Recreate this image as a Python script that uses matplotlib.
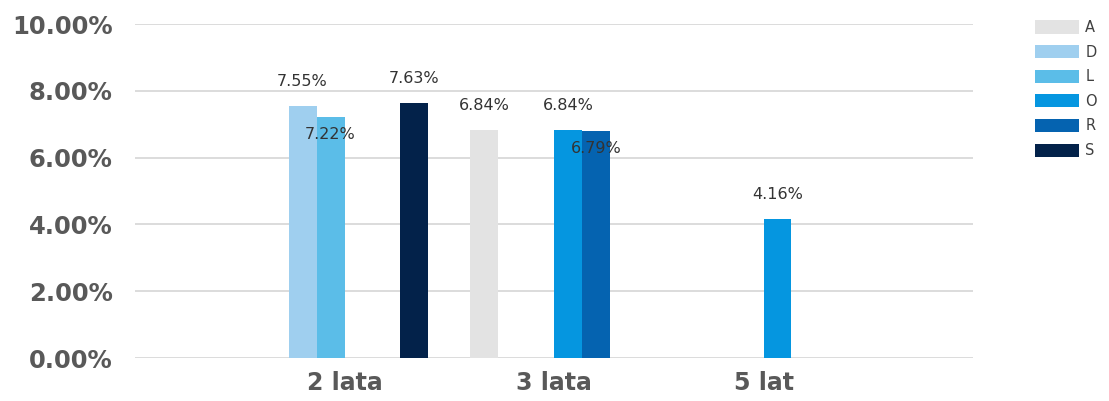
import numpy as np
import matplotlib
matplotlib.use('Agg')
import matplotlib.pyplot as plt
from matplotlib.patches import Patch

categories = ['2 lata', '3 lata', '5 lat']
series = ['A', 'D', 'L', 'O', 'R', 'S']
colors = ['#e3e3e3', '#9fcfef', '#5bbde8', '#0596e0', '#0563b0', '#03224a']
# nan = no bar in that group
values = {
    'A': [np.nan, 6.84, np.nan],
    'D': [7.55, np.nan, np.nan],
    'L': [7.22, np.nan, np.nan],
    'O': [np.nan, 6.84, 4.16],
    'R': [np.nan, 6.79, np.nan],
    'S': [7.63, np.nan, np.nan],
}
# labels that sit inside the bar top instead of above it
inside = {'L', 'R'}

fig = plt.figure(figsize=(11.09, 4.01), dpi=100)
ax = fig.add_axes([135/1109, 1-358/401, (973-135)/1109, (358-24)/401])

x = np.arange(len(categories))
w = 0.8/len(series)
for i, s in enumerate(series):
    pos = x + (i - 2.5)*w
    v = np.array(values[s])
    ax.bar(pos, v, width=w, color=colors[i], zorder=3)
    for p, val in zip(pos, v):
        if np.isnan(val):
            continue
        if s in inside:
            off = -12.5
        else:
            off = 17.5
        ax.annotate('%.2f%%' % val, (p, val), xytext=(0, off), textcoords='offset points',
                    ha='center', va='center', fontsize=11.5, color='#333333', zorder=4)

ax.set_xlim(-1, 3)
ax.set_ylim(0, 10)
ax.set_yticks([0, 2, 4, 6, 8, 10])
ax.set_yticklabels(['%.2f%%' % t for t in [0, 2, 4, 6, 8, 10]])
ax.set_xticks(x)
ax.set_xticklabels(categories)
ax.grid(axis='y', color='#d9d9d9', lw=1.3, zorder=0)
for sp in ['top', 'right', 'left', 'bottom']:
    ax.spines[sp].set_visible(False)
ax.tick_params(axis='y', length=0, pad=16, labelsize=17.5, labelcolor='#595959')
ax.tick_params(axis='x', length=0, pad=9, labelsize=17, labelcolor='#595959')
for lab in ax.get_yticklabels() + ax.get_xticklabels():
    lab.set_fontweight('bold')

handles = [Patch(facecolor=c, label=s) for s, c in zip(series, colors)]
fig.legend(handles=handles, loc='upper left', bbox_to_anchor=(1035/1109, 1-20/401),
           frameon=False, fontsize=10.5, handlelength=3.0, handleheight=1.0,
           labelspacing=0.66, handletextpad=0.45, borderpad=0, borderaxespad=0,
           labelcolor='#404040')

fig.savefig('out.png', dpi=100)
